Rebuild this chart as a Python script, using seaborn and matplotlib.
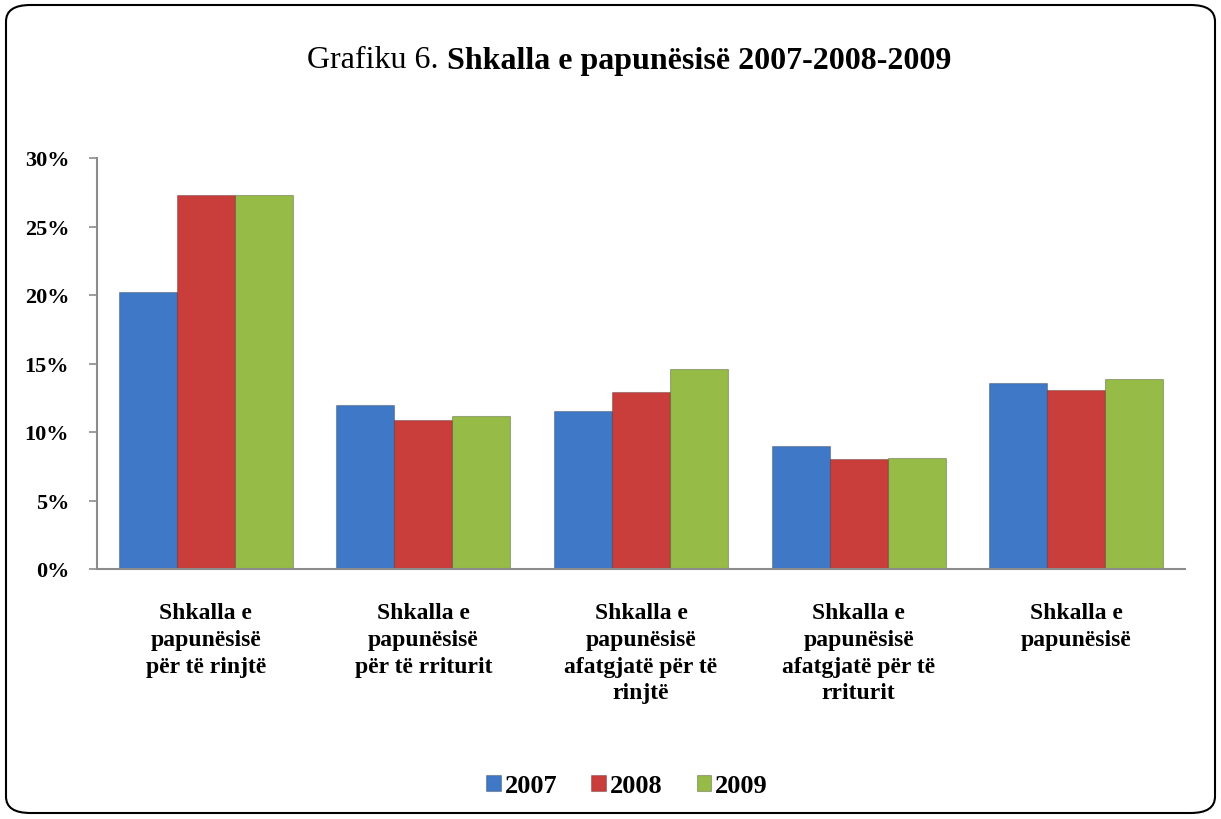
import matplotlib
matplotlib.use('Agg')
import matplotlib.pyplot as plt
from matplotlib.patches import FancyBboxPatch
import seaborn as sns
import pandas as pd


categories = [
	'Shkalla e\npapunësisë\npër të rinjtë',
	'Shkalla e\npapunësisë\npër të rriturit',
	'Shkalla e\npapunësisë\nafatgjatë për të\nrinjtë',
	'Shkalla e\npapunësisë\nafatgjatë për të\nrriturit',
	'Shkalla e\npapunësisë',
]
years = ['2007', '2008', '2009']
values_2007 = [20.2, 12.0, 11.5, 9.0, 13.6]
values_2008 = [27.3, 10.9, 12.9, 8.0, 13.1]
values_2009 = [27.3, 11.2, 14.6, 8.1, 13.9]
yticks = [0, 5, 10, 15, 20, 25, 30]
colors = ['#3F78C6', '#C93D3A', '#97BB47']


def main():
	rows = []
	for year, vals in zip(years, [values_2007, values_2008, values_2009]):
		for cat, v in zip(categories, vals):
			rows.append({'category': cat, 'year': year, 'value': v})
	df = pd.DataFrame(rows)

	sns.set_style('white')
	plt.rcParams['font.family'] = ['Liberation Serif', 'DejaVu Serif']
	plt.rcParams['text.color'] = 'black'
	plt.rcParams['xtick.color'] = 'black'
	plt.rcParams['ytick.color'] = 'black'

	fig = plt.figure(figsize=(12.21, 8.2), dpi=100)
	ax = fig.add_axes([97 / 1221, 1 - 570 / 820, (1185 - 97) / 1221, (570 - 159) / 820])

	sns.barplot(data=df, x='category', y='value', hue='year', palette=colors,
				width=0.8, gap=0, saturation=1, ax=ax, legend=True,
				edgecolor='none')
	for bar in ax.patches:
		bar.set_edgecolor('#00000040')
		bar.set_linewidth(0.8)

	ax.set_ylim(0, 30)
	ax.set_xlim(-0.5, len(categories) - 0.5)
	ax.set_yticks(yticks)
	ax.set_yticklabels([f'{t}%' for t in yticks], fontsize=16, fontweight='bold')
	ax.set_xticks(range(len(categories)))
	ax.set_xticklabels(categories, fontsize=17, fontweight='bold', va='top', linespacing=1.35)
	ax.tick_params(axis='x', which='major', length=0, pad=24, labelcolor='black')
	ax.set_xticks([i - 0.5 for i in range(len(categories) + 1)], minor=True)
	ax.tick_params(axis='x', which='minor', length=6, color='#8c8c8c', width=1.2)
	ax.tick_params(axis='y', length=6, color='#8c8c8c', width=1.2, pad=14, left=True,
				   labelcolor='black')
	ax.set_xlabel('')
	ax.set_ylabel('')

	for side in ['top', 'right']:
		ax.spines[side].set_visible(False)
	for side in ['left', 'bottom']:
		ax.spines[side].set_color('#8c8c8c')
		ax.spines[side].set_linewidth(1.5)

	handles, labels = ax.get_legend_handles_labels()
	ax.get_legend().remove()
	fig.legend(handles, labels, loc='center', bbox_to_anchor=(627 / 1221, 1 - 787 / 820),
			   ncol=3, frameon=False, prop={'weight': 'bold', 'size': 19},
			   handlelength=0.55, handleheight=0.55, handletextpad=0.15, columnspacing=1.3)

	fig.text(447 / 1221, 1 - 61 / 820, 'Grafiku 6. ', ha='right', va='center', fontsize=23)
	fig.text(447 / 1221, 1 - 61 / 820, 'Shkalla e papunësisë 2007-2008-2009', ha='left',
			 va='center', fontsize=23, fontweight='bold')

	border = FancyBboxPatch((6 / 1221, 6 / 820), 1209 / 1221, 808 / 820,
							boxstyle='round,pad=0,rounding_size=0.02',
							transform=fig.transFigure, fill=False,
							edgecolor='black', linewidth=1.5)
	fig.patches.append(border)

	fig.savefig('out.png', dpi=100)


if __name__ == '__main__':
	main()
